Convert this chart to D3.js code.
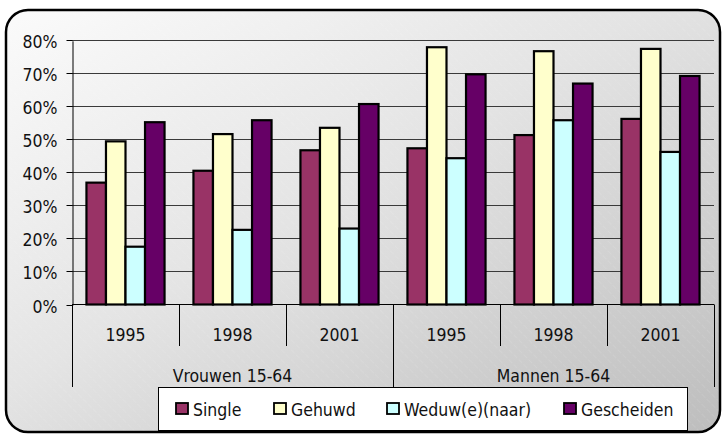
<!DOCTYPE html>
<html>
<head>
<meta charset="utf-8">
<script src="https://cdn.jsdelivr.net/npm/d3@7"></script>
<style>
  body { margin: 0; background: #fff; }
  text { font-family: "DejaVu Sans Condensed", "DejaVu Sans", sans-serif; fill: #111; }
</style>
</head>
<body>
<div id="chart"></div>
<script>
var groups = ["Vrouwen 15-64", "Mannen 15-64"],
    years = ["1995", "1998", "2001"],
    series = ["Single", "Gehuwd", "Weduw(e)(naar)", "Gescheiden"],
    colors = ["#993366", "#ffffcc", "#ccffff", "#660066"],
    yTicks = [0, 0.1, 0.2, 0.3, 0.4, 0.5, 0.6, 0.7, 0.8];

// one row per category (group x year), values in series order
var single     = [0.369, 0.405, 0.467, 0.473, 0.513, 0.562],
    gehuwd     = [0.494, 0.516, 0.535, 0.779, 0.767, 0.774],
    weduw      = [0.175, 0.226, 0.230, 0.443, 0.558, 0.462],
    gescheiden = [0.552, 0.558, 0.607, 0.697, 0.669, 0.692];

var values = [single, gehuwd, weduw, gescheiden];

var width = 723, height = 434, fontSize = 17.5;
var plot = {left: 72, right: 714, top: 40.3, bottom: 304.5};

var svg = d3.select("#chart").append("svg")
    .attr("width", width)
    .attr("height", height);

var defs = svg.append("defs");
var grad = defs.append("linearGradient")
    .attr("id", "bg").attr("x1", "0").attr("y1", "0").attr("x2", "1").attr("y2", "1");
grad.append("stop").attr("offset", "0%").attr("stop-color", "#fbfbfb");
grad.append("stop").attr("offset", "45%").attr("stop-color", "#e4e4e4");
grad.append("stop").attr("offset", "100%").attr("stop-color", "#bdbdbd");

var hatch = defs.append("pattern")
    .attr("id", "hatch").attr("width", 7).attr("height", 7)
    .attr("patternUnits", "userSpaceOnUse")
    .attr("patternTransform", "rotate(-45)");
hatch.append("line")
    .attr("x1", 0).attr("y1", 0).attr("x2", 0).attr("y2", 7)
    .attr("stroke", "#fff").attr("stroke-opacity", 0.18).attr("stroke-width", 1)
    .attr("stroke-dasharray", "3,2");

// rounded background panel
svg.append("rect")
    .attr("x", 6).attr("y", 10).attr("width", 714).attr("height", 422)
    .attr("rx", 22).attr("ry", 22)
    .attr("fill", "url(#bg)");
svg.append("rect")
    .attr("x", 6).attr("y", 10).attr("width", 714).attr("height", 422)
    .attr("rx", 22).attr("ry", 22)
    .attr("fill", "url(#hatch)")
    .attr("stroke", "#000").attr("stroke-width", 2.5);

var cats = d3.range(groups.length * years.length);

var x0 = d3.scaleBand()
    .domain(cats)
    .range([plot.left, plot.right]);

var x1 = d3.scaleBand()
    .domain(series)
    .range([0, x0.bandwidth()])
    .paddingInner(0)
    .paddingOuter(0.74);

var y = d3.scaleLinear()
    .domain([0, 0.8])
    .range([plot.bottom, plot.top]);

// gridlines
svg.append("g")
    .selectAll("line")
    .data(yTicks.slice(1))
  .enter().append("line")
    .attr("x1", plot.left).attr("x2", plot.right)
    .attr("y1", function(d) { return Math.round(y(d)) + 0.5; })
    .attr("y2", function(d) { return Math.round(y(d)) + 0.5; })
    .attr("stroke", "#3a3a3a").attr("stroke-width", 1);

// y axis
var yAxis = svg.append("g")
    .attr("transform", "translate(" + (plot.left + 0.5) + ",0.5)")
    .call(d3.axisLeft(y).tickValues(yTicks).tickFormat(d3.format(".0%"))
      .tickSizeInner(6).tickSizeOuter(0).tickPadding(9));
yAxis.select(".domain").attr("stroke", "#000");
yAxis.selectAll(".tick line").attr("stroke", "#000");
yAxis.selectAll(".tick text")
    .attr("font-size", fontSize)
    .attr("font-family", "DejaVu Sans Condensed, DejaVu Sans, sans-serif")
    .attr("fill", "#111")
    .attr("dy", "0.4em");
yAxis.selectAll(".tick")
    .attr("transform", function(d) { return "translate(0," + (Math.round(y(d))) + ")"; });

// bars
var cat = svg.selectAll(".cat")
    .data(cats)
  .enter().append("g")
    .attr("class", "cat")
    .attr("transform", function(d) { return "translate(" + x0(d) + ",0)"; });

cat.selectAll("rect")
    .data(function(c) { return series.map(function(s, i) { return {s: s, i: i, v: values[i][c]}; }); })
  .enter().append("rect")
    .attr("x", function(d) { return x1(d.s); })
    .attr("width", x1.bandwidth())
    .attr("y", function(d) { return y(d.v); })
    .attr("height", function(d) { return y(0) - y(d.v); })
    .attr("fill", function(d) { return colors[d.i]; })
    .attr("stroke", "#000")
    .attr("stroke-width", 2.2);

// x axis baseline
svg.append("line")
    .attr("x1", plot.left).attr("x2", plot.right)
    .attr("y1", plot.bottom).attr("y2", plot.bottom)
    .attr("stroke", "#000").attr("stroke-width", 1.2);

// year separators (short) and group separators (long)
var bounds = d3.range(cats.length + 1).map(function(i) {
  return i < cats.length ? x0(i) : x0(i - 1) + x0.bandwidth();
});
svg.append("g")
    .selectAll("line")
    .data(bounds)
  .enter().append("line")
    .attr("x1", function(d) { return Math.round(d) + 0.5; })
    .attr("x2", function(d) { return Math.round(d) + 0.5; })
    .attr("y1", plot.bottom)
    .attr("y2", function(d, i) { return i % years.length === 0 ? 387 : 346; })
    .attr("stroke", "#000").attr("stroke-width", 1);

// year labels
svg.append("g")
    .selectAll("text")
    .data(cats)
  .enter().append("text")
    .attr("x", function(d) { return x0(d) + x0.bandwidth() / 2; })
    .attr("y", 340.5)
    .attr("text-anchor", "middle")
    .attr("font-size", fontSize)
    .text(function(d) { return years[d % years.length]; });

// group labels
svg.append("g")
    .selectAll("text")
    .data(groups)
  .enter().append("text")
    .attr("x", function(d, i) { return (x0(i * years.length) + x0((i + 1) * years.length - 1) + x0.bandwidth()) / 2; })
    .attr("y", 381.5)
    .attr("text-anchor", "middle")
    .attr("font-size", fontSize)
    .text(function(d) { return d; });

// legend
var legend = svg.append("g");
legend.append("rect")
    .attr("x", 158.5).attr("y", 387.5).attr("width", 529).attr("height", 43)
    .attr("fill", "#fff").attr("stroke", "#000").attr("stroke-width", 1);

var legendX = [176, 274, 387, 564];
var item = legend.selectAll(".item")
    .data(series)
  .enter().append("g")
    .attr("class", "item")
    .attr("transform", function(d, i) { return "translate(" + legendX[i] + ",403)"; });
item.append("rect")
    .attr("width", 12).attr("height", 11)
    .attr("fill", function(d, i) { return colors[i]; })
    .attr("stroke", "#000").attr("stroke-width", 1.8);
item.append("text")
    .attr("x", 17).attr("y", 12.7)
    .attr("font-size", fontSize)
    .text(function(d) { return d; });
</script>
</body>
</html>
